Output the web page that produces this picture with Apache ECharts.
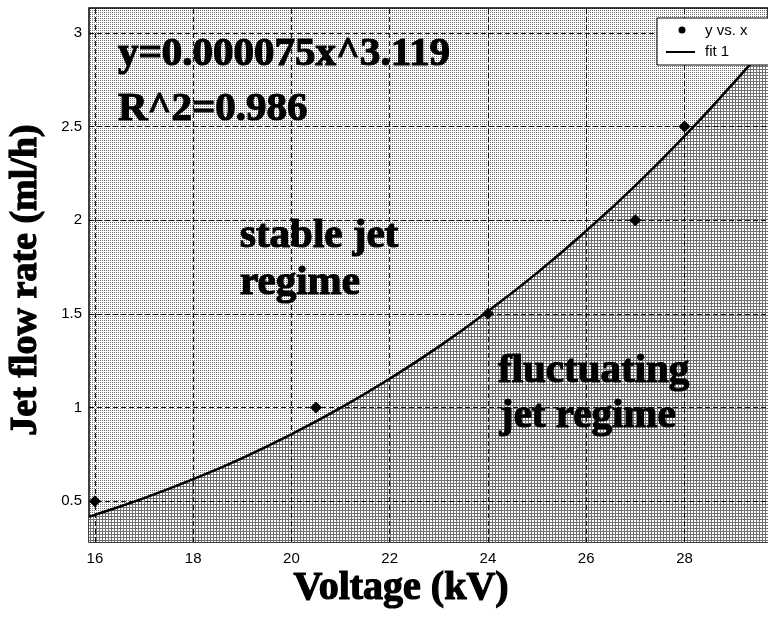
<!DOCTYPE html>
<html>
<head>
<meta charset="utf-8">
<script src="https://cdn.jsdelivr.net/npm/echarts@6/dist/echarts.min.js"></script>
<style>
	html, body { margin: 0; padding: 0; background: #fff; }
	#main { width: 768px; height: 621px; }
</style>
</head>
<body>
<div id="main"></div>
<script>
	/* 数据 */
	var xTicks = [16, 18, 20, 22, 24, 26, 28];
	var yTicks = [0.5, 1, 1.5, 2, 2.5, 3];
	var voltage = [16, 20.5, 24, 27, 28];
	var flowRate = [0.5, 1.0, 1.5, 2.0, 2.5];
	// fit 1 曲线
	var fitX = [15.88, 16, 17, 18, 19, 20, 21, 22, 23, 24, 25, 26, 27, 28, 29, 29.7];
	var fitY = [0.417, 0.427, 0.516, 0.617, 0.730, 0.857, 0.998, 1.154, 1.325, 1.514, 1.719, 1.943, 2.185, 2.449, 2.733, 2.94];

	var serif = '"Liberation Serif", "Times New Roman", serif';
	var sans = '"Liberation Sans", Arial, sans-serif';

	/* 填充图案 */
	function makePattern(size, draw) {
		var c = document.createElement('canvas');
		c.width = size;
		c.height = size;
		var ctx = c.getContext('2d');
		ctx.fillStyle = '#ffffff';
		ctx.fillRect(0, 0, size, size);
		draw(ctx);
		return { image: c, repeat: 'repeat' };
	}
	var lightPattern = makePattern(2, function(ctx) {
		ctx.fillStyle = '#6e6e6e';
		ctx.fillRect(0, 0, 1, 1);
	});
	var darkPattern = makePattern(3, function(ctx) {
		ctx.fillStyle = '#707070';
		ctx.fillRect(0, 0, 3, 1);
		ctx.fillRect(0, 0, 1, 3);
	});

	var fitData = fitX.map(function(x, i) { return [x, fitY[i]]; });
	var pointData = voltage.map(function(x, i) { return [x, flowRate[i]]; });

	var gridLines = [];
	xTicks.forEach(function(v) { gridLines.push({ xAxis: v }); });
	yTicks.forEach(function(v) { gridLines.push({ yAxis: v }); });

	function boldText(text, x, y, size, align, rotation) {
		return {
			type: 'text',
			x: x,
			y: y,
			z: 100,
			rotation: rotation || 0,
			style: {
				text: text,
				font: 'bold ' + size + 'px ' + serif,
				fill: '#000',
				stroke: '#000',
				lineWidth: 1.2,
				align: align || 'left',
				verticalAlign: 'middle'
			}
		};
	}

	var option = {
		backgroundColor: '#fff',
		animation: false,
		grid: {
			left: 89,
			top: 8,
			bottom: 79,
			right: -12,
			show: true,
			backgroundColor: lightPattern,
			borderColor: '#000',
			borderWidth: 1.5
		},
		xAxis: {
			type: 'value',
			min: 15.88,
			max: 29.7,
			axisLine: { show: false },
			splitLine: { show: false },
			axisTick: { show: true, inside: true, length: 4, customValues: xTicks, lineStyle: { color: '#000' } },
			axisLabel: { customValues: xTicks, color: '#000', fontFamily: sans, fontSize: 15, margin: 9 }
		},
		yAxis: {
			type: 'value',
			min: 0.282,
			max: 3.133,
			axisLine: { show: false },
			splitLine: { show: false },
			axisTick: { show: true, inside: true, length: 4, customValues: yTicks, lineStyle: { color: '#000' } },
			axisLabel: { customValues: yTicks, color: '#000', fontFamily: sans, fontSize: 15, margin: 7 }
		},
		series: [{
			name: 'fit 1',
			type: 'line',
			data: fitData,
			smooth: true,
			showSymbol: false,
			z: 2,
			lineStyle: { color: '#000', width: 2.5 },
			areaStyle: { color: darkPattern, opacity: 1, origin: 'start' }
		}, {
			name: 'y vs. x',
			type: 'scatter',
			data: pointData,
			symbol: 'diamond',
			symbolSize: 12,
			z: 4,
			itemStyle: { color: '#000', opacity: 1 },
			markLine: {
				silent: true,
				symbol: ['none', 'none'],
				label: { show: false },
				lineStyle: { color: '#000', width: 1, type: [5, 3], opacity: 0.9 },
				data: gridLines
			}
		}],
		graphic: [
			boldText('y=0.000075x^3.119', 118, 54, 41),
			boldText('R^2=0.986', 118, 109, 41),
			boldText('stable jet', 240, 236, 41),
			boldText('regime', 240, 283, 41),
			boldText('fluctuating', 498, 371, 41),
			boldText('jet regime', 500, 416, 41),
			boldText('Voltage (kV)', 401, 589, 40, 'center'),
			boldText('Jet flow rate (ml/h)', 26, 280, 38, 'center', Math.PI / 2),
			{
				type: 'rect',
				z: 110,
				shape: { x: 657, y: 18, width: 130, height: 47 },
				style: { fill: '#fff', stroke: '#000', lineWidth: 1 }
			},
			{
				type: 'circle',
				z: 111,
				shape: { cx: 682, cy: 30, r: 3.5 },
				style: { fill: '#000' }
			},
			{
				type: 'line',
				z: 111,
				shape: { x1: 666, y1: 52, x2: 695, y2: 52 },
				style: { stroke: '#000', lineWidth: 2 }
			},
			{
				type: 'text',
				z: 111,
				x: 705,
				y: 31,
				style: { text: 'y vs. x', font: '15px ' + sans, fill: '#000', verticalAlign: 'middle' }
			},
			{
				type: 'text',
				z: 111,
				x: 705,
				y: 52,
				style: { text: 'fit 1', font: '15px ' + sans, fill: '#000', verticalAlign: 'middle' }
			}
		]
	};

	var chart = echarts.init(document.getElementById('main'));
	chart.setOption(option);
</script>
</body>
</html>
